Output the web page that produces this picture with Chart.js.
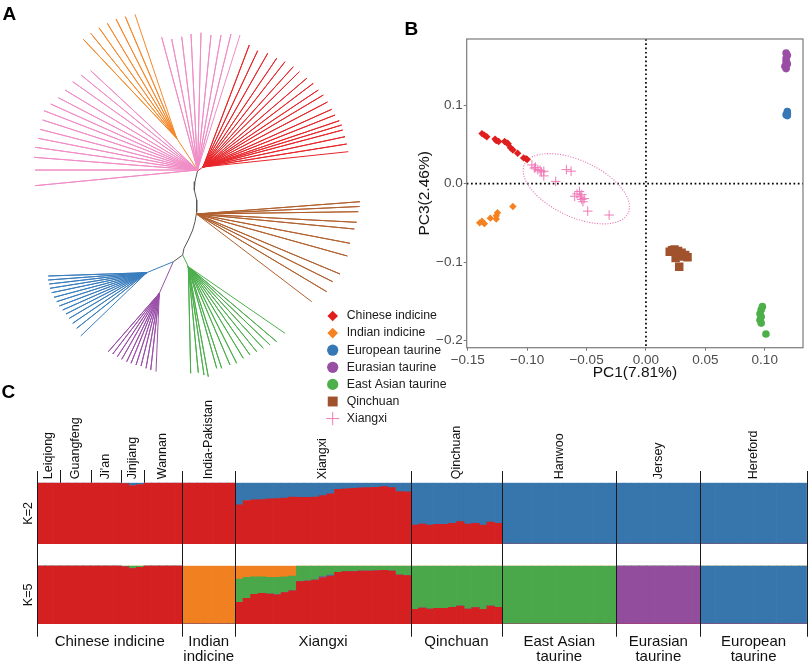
<!DOCTYPE html>
<html>
<head>
<meta charset="utf-8">
<script src="https://cdn.jsdelivr.net/npm/chart.js@4.4.1/dist/chart.umd.min.js"></script>
<style>
body { margin: 0; background: #fff; }
#wrap { position: relative; width: 809px; height: 665px; overflow: hidden; font-family: 'Liberation Sans', Arial, sans-serif; }
canvas { position: absolute; }
.tag { position: absolute; font-weight: bold; font-size: 19px; line-height: 1; color: #000; }
</style>
</head>
<body>
<div id="wrap">
  <canvas id="tree" width="370" height="390" style="left:0;top:0"></canvas>
  <canvas id="k2" width="809" height="160" style="left:0;top:395px"></canvas>
  <canvas id="k5" width="809" height="110" style="left:0;top:555px"></canvas>
  <canvas id="pca" width="489" height="430" style="left:320px;top:0"></canvas>
  <div class="tag" style="left:2.5px;top:4px">A</div>
  <div class="tag" style="left:404.5px;top:19px">B</div>
  <div class="tag" style="left:1.5px;top:382px">C</div>
</div>
<script>
// --- panel A : neighbour-joining tree (layout units, y goes down) ---
const backbone = [[197.5,171],[195,181.7],[194.3,190],[196.7,200],[196.7,212],[195,221.7],[192.7,230],[188.3,240],[184,248.3],[182.7,255],[173.3,261.7]];
const pinkOrigin = [197.5,170];
const pinkTips = [[35,185.7],[35,170],[34,157.3],[35,147.3],[38.3,138.3],[40,129.3],[42.7,120],[44,110.7],[50.7,104],[58.3,97.7],[65,90],[72.7,81.7],[81,75],[90.7,70.7],
  [161.7,37.3],[171.7,39],[181.7,36.7],[191,34],[201,32.7],[211,35],[221,35],[231,34],[240,35]];
const orangeNode = [176.7,138.3];
const orangeTips = [[83.3,39.3],[90.7,33.3],[99,27.7],[107.3,23.3],[116,19],[125.3,16.7],[135,14.3]];
const redNode = [203,167];
const redTips = [[249.3,45],[257.7,50.7],[267.7,53.3],[276.7,58.3],[285,61.7],[293.3,66.7],[299.3,71.7],[306.7,78.3],[313.3,83.3],[318.3,90],
  [323.3,95],[327.5,102],[331.7,109.3],[335,115],[339.3,120.7],[341.7,125],[342.7,130],[345,136.7],[346.7,144],[348.3,151.7]];
const brownNode = [196.5,214];
const brownTips = [[360,201.7],[359.5,206.5],[358.3,211.7],[356.7,222.3],[354.3,229],[350,243.3],[347.3,256],[340,274],[332.7,281.7],[326.7,291.7],[311.7,301.7]];
const greenNode = [188.3,266.7];
const greenTips = [[190.7,373.3],[198.3,372.7],[204,375],[208.3,376.7],[216.7,368.3],[221.7,368.3],[230,365],[236.7,363.3],[243.3,358.3],[250,355],
  [256.7,351.7],[263.3,348.3],[270,345],[276.7,341.7],[285,333.3]];
const blueNode = [146.7,272.7];
const blueTips = [[48.3,276],[48.3,280],[49.3,284],[50,288.3],[51.7,292.7],[54,297.3],[56.7,301.7],[59.3,306],[62.7,310],[66,314],[69.3,318.3],[72.7,323.3],[76.7,328.3],[80.7,336]];
const purpleNode = [159.3,293.3];
const purpleTips = [[108.3,351.7],[112.7,354],[117.3,356.7],[121.7,359.3],[126.7,361.7],[131,363.3],[136,365],[141,366],[146,368.3],[150.7,370],[156,371.7]];

// --- panel B : PCA ---
const chineseX = [-0.138,-0.136,-0.134,-0.127,-0.126,-0.124,-0.119,-0.117,-0.116,-0.114,-0.112,-0.108,-0.103,-0.101,-0.100];
const chineseY = [0.064,0.062,0.060,0.057,0.055,0.054,0.054,0.052,0.051,0.046,0.043,0.039,0.033,0.032,0.031];
const indianX = [-0.140,-0.138,-0.136,-0.131,-0.126,-0.126,-0.125,-0.112];
const indianY = [-0.050,-0.048,-0.051,-0.044,-0.041,-0.045,-0.037,-0.029];
const europeanX = [0.119,0.119,0.118,0.119];
const europeanY = [0.092,0.090,0.088,0.087];
const eurasianX = [0.118,0.119,0.118,0.118,0.117,0.118,0.119];
const eurasianY = [0.167,0.164,0.160,0.156,0.150,0.147,0.153];
const eastAsianX = [0.098,0.097,0.096,0.097,0.096,0.097,0.101];
const eastAsianY = [-0.157,-0.161,-0.166,-0.170,-0.174,-0.178,-0.192];
const qinchuanX = [0.020,0.022,0.024,0.026,0.027,0.029,0.030,0.032,0.033,0.035,0.028,0.025];
const qinchuanY = [-0.087,-0.085,-0.084,-0.089,-0.086,-0.091,-0.088,-0.093,-0.091,-0.094,-0.106,-0.095];
const xiangxiX = [-0.096,-0.094,-0.093,-0.091,-0.089,-0.088,-0.086,-0.086,-0.076,-0.067,-0.063,-0.060,-0.058,-0.056,-0.055,-0.054,-0.054,-0.053,-0.052,-0.049,-0.031];
const xiangxiY = [0.024,0.020,0.021,0.018,0.017,0.015,0.016,0.010,0.003,0.018,0.016,-0.016,-0.013,-0.010,-0.017,-0.020,-0.014,-0.023,-0.019,-0.035,-0.040];
const ellipseCenter = [-0.0586,-0.0064];
const ellipseMajor = [-0.0150,-0.0375];
const ellipseMinor = [-0.0686,-0.0388];
const pcaXTicks = [-0.15,-0.10,-0.05,0,0.05,0.10];
const pcaXLabels = ['\u22120.15','\u22120.10','\u22120.05','0.00','0.05','0.10'];
const pcaYTicks = [-0.2,-0.1,0,0.1];
const pcaYLabels = ['\u22120.2','\u22120.1','0.0','0.1'];

// --- panel C : ADMIXTURE ---
const popNames = ['Leiqiong','Guangfeng',"Ji'an",'Jinjiang','Wannan','India-Pakistan','Xiangxi','Qinchuan','Hanwoo','Jersey','Hereford'];
const popSizes = [3,4,4,3,5,7,23,12,15,11,14];
const groupNames = [['Chinese indicine'],['Indian','indicine'],['Xiangxi'],['Qinchuan'],['East Asian','taurine'],['Eurasian','taurine'],['European','taurine']];
const groupSizes = [19,7,23,12,15,11,14];
const jinjiangK2Blue = [0.015,0.045,0.03];
const xiangxiK2Blue = [0.36,0.29,0.28,0.275,0.265,0.26,0.25,0.235,0.24,0.24,0.235,0.21,0.18,0.11,0.10,0.09,0.085,0.08,0.075,0.065,0.08,0.145,0.15];
const qinchuanK2Blue = [0.69,0.674,0.69,0.68,0.68,0.663,0.636,0.674,0.663,0.69,0.641,0.663];
const jinjiangK5Green = [0.02,0.05,0.03];
const xiangxiK5Orange = [0.23,0.2,0.19,0.19,0.2,0.2,0.19,0.18,0,0,0,0,0,0,0,0,0,0,0,0,0,0,0];
const xiangxiK5Green = [0.40,0.36,0.30,0.286,0.286,0.30,0.27,0.25,0.274,0.263,0.246,0.19,0.16,0.114,0.103,0.103,0.091,0.091,0.086,0.08,0.091,0.16,0.17];
const xiangxiK5Purple = [0,0,0,0,0,0,0,0,0,0,0,0.02,0,0,0,0,0,0,0,0,0,0,0];
const xiangxiK5Blue = [0,0,0,0,0,0,0,0,0,0,0,0,0.02,0,0,0,0,0,0,0,0,0,0];
const qinchuanK5Green = [0.749,0.726,0.743,0.731,0.731,0.714,0.691,0.743,0.72,0.749,0.691,0.714];

const FONT = "'Liberation Sans', Arial, sans-serif";
Chart.defaults.font.family = FONT;

const RED = '#d42020', BLUE = '#3676ad', GREEN = '#4aa84a', PURPLE = '#924e9c', ORANGE = '#f08020';

// ---------- tree ----------
function fan(stemStart, node, tips) {
    const pts = stemStart ? [stemStart] : [];
    tips.forEach(t => pts.push(node, t));
    return pts.map(([x, y]) => ({ x, y }));
}

const treeSets = [
    { pts: fan(pinkOrigin, pinkOrigin, pinkTips), color: '#f08cc6' },
    { pts: fan(pinkOrigin, orangeNode, orangeTips), color: '#f5882a' },
    { pts: fan(backbone[0], redNode, redTips), color: '#e8262a' },
    { pts: fan(null, brownNode, brownTips), color: '#b0602e' },
    { pts: fan(backbone[9], greenNode, greenTips), color: '#4cae4c' },
    { pts: fan(backbone[10], blueNode, blueTips), color: '#3a7dbd' },
    { pts: fan(backbone[10], purpleNode, purpleTips), color: '#9a50a8' },
    { pts: backbone.map(([x, y]) => ({ x, y })), color: '#555' }
];

new Chart(document.getElementById('tree'), {
    type: 'scatter',
    data: {
        datasets: treeSets.map(s => ({
            data: s.pts,
            showLine: true,
            borderColor: s.color,
            borderWidth: 1,
            borderJoinStyle: 'round',
            pointRadius: 0,
            tension: 0
        }))
    },
    options: {
        responsive: false,
        animation: false,
        layout: { padding: 0 },
        plugins: { legend: { display: false }, tooltip: { enabled: false } },
        scales: {
            x: { type: 'linear', display: false, min: 0, max: 370 },
            y: { type: 'linear', display: false, min: 0, max: 390, reverse: true }
        }
    }
});

// ---------- PCA ----------
const pcaGroups = [
    { label: 'Chinese indicine', x: chineseX, y: chineseY, color: '#e01e1e', style: 'rectRot', r: 3.7, lr: 5.3 },
    { label: 'Indian indicine', x: indianX, y: indianY, color: '#f58220', style: 'rectRot', r: 3.7, lr: 5.3 },
    { label: 'European taurine', x: europeanX, y: europeanY, color: '#3678b4', style: 'circle', r: 3.8, lr: 5.6 },
    { label: 'Eurasian taurine', x: eurasianX, y: eurasianY, color: '#984ea3', style: 'circle', r: 3.8, lr: 5.6 },
    { label: 'East Asian taurine', x: eastAsianX, y: eastAsianY, color: '#4daf4a', style: 'circle', r: 3.8, lr: 5.6 },
    { label: 'Qinchuan', x: qinchuanX, y: qinchuanY, color: '#a0522d', style: 'rect', r: 6, lr: 7 },
    { label: 'Xiangxi', x: xiangxiX, y: xiangxiY, color: '#f07ab8', style: 'cross', r: 4.8, lr: 6.5 }
];

const pcaDecor = {
    id: 'pcaDecor',
    beforeDatasetsDraw(chart) {
        const { ctx, chartArea: a, scales: { x, y } } = chart;
        ctx.save();
        ctx.strokeStyle = '#000';
        ctx.lineWidth = 1.7;
        ctx.setLineDash([1.7, 2.6]);
        const x0 = x.getPixelForValue(0), y0 = y.getPixelForValue(0);
        ctx.beginPath();
        ctx.moveTo(x0, a.top); ctx.lineTo(x0, a.bottom);
        ctx.moveTo(a.left, y0); ctx.lineTo(a.right, y0);
        ctx.stroke();
        // confidence ellipse of Xiangxi
        const cx = x.getPixelForValue(ellipseCenter[0]), cy = y.getPixelForValue(ellipseCenter[1]);
        const ax = x.getPixelForValue(ellipseMajor[0]) - cx, ay = y.getPixelForValue(ellipseMajor[1]) - cy;
        const bx = x.getPixelForValue(ellipseMinor[0]) - cx, by = y.getPixelForValue(ellipseMinor[1]) - cy;
        ctx.strokeStyle = '#e878b8';
        ctx.lineWidth = 1.1;
        ctx.setLineDash([1.1, 1.5]);
        ctx.beginPath();
        ctx.ellipse(cx, cy, Math.hypot(ax, ay), Math.hypot(bx, by), Math.atan2(ay, ax), 0, 2 * Math.PI);
        ctx.stroke();
        ctx.restore();
    },
    afterDraw(chart) {
        const { ctx, chartArea: a } = chart;
        ctx.save();
        ctx.strokeStyle = '#7a7a7a';
        ctx.lineWidth = 1.2;
        ctx.strokeRect(a.left, a.top, a.right - a.left, a.bottom - a.top);
        // legend (sits to the left of the panel, under the tree)
        ctx.font = '12.3px ' + FONT;
        ctx.textBaseline = 'middle';
        pcaGroups.forEach((g, i) => {
            const ly = 316 + i * 17.1;
            ctx.fillStyle = g.color;
            ctx.strokeStyle = g.color;
            ctx.lineWidth = 1;
            Chart.helpers.drawPoint(ctx, { pointStyle: g.style, radius: g.lr, rotation: 0, borderWidth: g.style === 'cross' ? 1 : 0 }, 12.7, ly);
            ctx.fillStyle = '#1a1a1a';
            ctx.fillText(g.label, 26.7, ly);
        });
        ctx.restore();
    }
};

new Chart(document.getElementById('pca'), {
    type: 'scatter',
    data: {
        datasets: pcaGroups.map(g => ({
            label: g.label,
            data: g.x.map((v, i) => ({ x: v, y: g.y[i] })),
            pointStyle: g.style,
            pointRadius: g.r,
            pointBackgroundColor: g.color,
            pointBorderColor: g.color,
            pointBorderWidth: g.style === 'cross' ? 1 : 0
        }))
    },
    options: {
        responsive: false,
        animation: false,
        layout: { padding: { left: 94.7, right: 2, top: 39, bottom: 48.3 } },
        plugins: { legend: { display: false }, tooltip: { enabled: false } },
        scales: {
            x: {
                type: 'linear', min: -0.1509, max: 0.1322,
                afterBuildTicks: s => { s.ticks = pcaXTicks.map(v => ({ value: v })); },
                afterFit: s => { s.height = 34; },
                grid: { drawOnChartArea: false, drawTicks: true, tickLength: 3, color: '#7a7a7a' },
                border: { display: false },
                ticks: { color: '#4d4d4d', font: { size: 13.5 }, padding: 1, autoSkip: false, maxRotation: 0,
                         callback: v => pcaXLabels[pcaXTicks.indexOf(v)] },
                title: { display: true, text: 'PC1(7.81%)', color: '#111', font: { size: 15.5 }, padding: 0 }
            },
            y: {
                type: 'linear', min: -0.2094, max: 0.1848,
                afterBuildTicks: s => { s.ticks = pcaYTicks.map(v => ({ value: v })); },
                afterFit: s => { s.width = 52; },
                grid: { drawOnChartArea: false, drawTicks: true, tickLength: 3, color: '#7a7a7a' },
                border: { display: false },
                ticks: { color: '#4d4d4d', font: { size: 13.5 }, padding: 1, autoSkip: false,
                         callback: v => pcaYLabels[pcaYTicks.indexOf(v)] },
                title: { display: true, text: 'PC3(2.46%)', color: '#111', font: { size: 15.5 }, padding: { top: 1, bottom: 0 } }
            }
        }
    },
    plugins: [pcaDecor]
});

// ---------- ADMIXTURE ----------
function fromPops(values) {
    return popSizes.flatMap((n, p) => Array.isArray(values[p]) ? values[p] : Array(n).fill(values[p]));
}
const indivLabels = popSizes.flatMap((n, p) => Array.from({ length: n }, (_, i) => popNames[p] + ' ' + (i + 1)));

const k2Blue = fromPops([0, 0, 0, jinjiangK2Blue, 0, 0, xiangxiK2Blue, qinchuanK2Blue, 1, 1, 1]);
const k2Red = k2Blue.map(v => +(1 - v).toFixed(3));
const k5Orange = fromPops([0, 0, 0, 0, 0, 1, xiangxiK5Orange, 0, 0, 0, 0]);
const k5Green = fromPops([0, 0, 0, jinjiangK5Green, 0, 0, xiangxiK5Green, qinchuanK5Green, 1, 0, 0]);
const k5Purple = fromPops([0, 0, 0, 0, 0, 0, xiangxiK5Purple, 0, 0, 1, 0]);
const k5Blue = fromPops([0, 0, 0, 0, 0, 0, xiangxiK5Blue, 0, 0, 0, 1]);
const k5Red = k5Orange.map((v, i) => +(1 - v - k5Green[i] - k5Purple[i] - k5Blue[i]).toFixed(3));

function cumulative(sizes) {
    const out = [0];
    sizes.forEach(n => out.push(out[out.length - 1] + n));
    return out;
}

function structureDecor(kText, sepTop, sepBottom, withTop, withBottom) {
    return {
        id: 'decor' + kText.replace('=', ''),
        afterDraw(chart) {
            const { ctx, chartArea: a, scales: { x } } = chart;
            const edge = i => x.getPixelForValue(i - 0.5);
            ctx.save();
            ctx.strokeStyle = '#1a1a1a';
            ctx.lineWidth = 1;
            const gb = cumulative(groupSizes);
            ctx.beginPath();
            gb.forEach(b => {
                const px = Math.round(edge(b)) + 0.5;
                ctx.moveTo(px, sepTop); ctx.lineTo(px, sepBottom);
            });
            ctx.stroke();
            ctx.fillStyle = '#111';
            if (withTop) {
                const pb = cumulative(popSizes);
                ctx.beginPath();
                pb.slice(1, 5).forEach(b => {
                    const px = Math.round(edge(b)) + 0.5;
                    ctx.moveTo(px, sepTop - 1); ctx.lineTo(px, a.top);
                });
                ctx.stroke();
                ctx.font = '12.5px ' + FONT;
                ctx.textAlign = 'left';
                ctx.textBaseline = 'middle';
                popNames.forEach((name, p) => {
                    const cxp = (edge(pb[p]) + edge(pb[p + 1])) / 2;
                    ctx.save();
                    ctx.translate(cxp, a.top - 3.5);
                    ctx.rotate(-Math.PI / 2);
                    ctx.fillText(name, 0, 0);
                    ctx.restore();
                });
            }
            if (withBottom) {
                ctx.font = '15px ' + FONT;
                ctx.textAlign = 'center';
                ctx.textBaseline = 'middle';
                groupNames.forEach((lines, g) => {
                    const cxg = (edge(gb[g]) + edge(gb[g + 1])) / 2;
                    lines.forEach((t, li) => ctx.fillText(t, cxg, a.bottom + 17.7 + li * 15.5));
                });
            }
            ctx.font = '12.5px ' + FONT;
            ctx.textAlign = 'center';
            ctx.textBaseline = 'middle';
            ctx.save();
            ctx.translate(a.left - 9, (a.top + a.bottom) / 2);
            ctx.rotate(-Math.PI / 2);
            ctx.fillText(kText, 0, 0);
            ctx.restore();
            ctx.restore();
        }
    };
}

function structureChart(id, sets, padding, decor) {
    return new Chart(document.getElementById(id), {
        type: 'bar',
        data: {
            labels: indivLabels,
            datasets: sets.map(s => ({ label: s.label, data: s.data, backgroundColor: s.color, borderWidth: 0,
                                       categoryPercentage: 1, barPercentage: 1 }))
        },
        options: {
            responsive: false,
            animation: false,
            layout: { padding },
            plugins: { legend: { display: false }, tooltip: { enabled: false } },
            scales: {
                x: { stacked: true, display: false },
                y: { stacked: true, display: false, min: 0, max: 1 }
            }
        },
        plugins: [decor]
    });
}

structureChart('k2', [
    { label: 'indicine', data: k2Red, color: RED },
    { label: 'taurine', data: k2Blue, color: BLUE }
], { left: 37.3, right: 2.1, top: 87.7, bottom: 11 }, structureDecor('K=2', 76, 160, true, false));

structureChart('k5', [
    { label: 'Chinese indicine', data: k5Red, color: RED },
    { label: 'Eurasian taurine', data: k5Purple, color: PURPLE },
    { label: 'European taurine', data: k5Blue, color: BLUE },
    { label: 'East Asian taurine', data: k5Green, color: GREEN },
    { label: 'Indian indicine', data: k5Orange, color: ORANGE }
], { left: 37.3, right: 2.1, top: 10.7, bottom: 41 }, structureDecor('K=5', 0, 81.7, false, true));
</script>
</body>
</html>
